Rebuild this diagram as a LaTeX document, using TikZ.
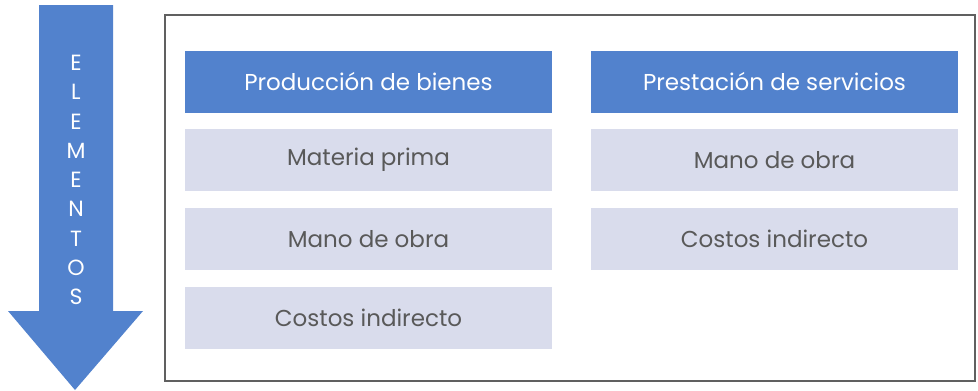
\documentclass[tikz,border=0pt]{standalone}
\usepackage{fontspec}
\setmainfont{Poppins}
\usetikzlibrary{positioning}

\definecolor{headblue}{HTML}{5282CD}
\definecolor{cellgray}{HTML}{D9DCEC}
\definecolor{textgray}{HTML}{595959}
\definecolor{framegray}{HTML}{606060}

\tikzset{
  headbox/.style={fill=headblue, text=white, minimum width=367pt, minimum height=62pt,
    inner sep=0pt, font=\fontsize{23}{26}\selectfont},
  cellbox/.style={fill=cellgray, text=textgray, minimum width=367pt, minimum height=62pt,
    inner sep=0pt, font=\fontsize{23}{26}\selectfont}
}

\begin{document}
\begin{tikzpicture}[x=1pt, y=-1pt]

  % Fix the page size
  \useasboundingbox (0,0) rectangle (978,391);

  % Big arrow on the left
  \fill[headblue] (39,5) -- (113,5) -- (113,311) -- (143,311) -- (75,390)
    -- (8,311) -- (39,311) -- cycle;
  \node[text=white, align=center, font=\fontsize{22}{29.3}\selectfont] (elementos) at (76,180)
    {E\\L\\E\\M\\E\\N\\T\\O\\S};

  % Outer frame
  \draw[framegray, line width=2pt] (165,15) rectangle (975,381);

  % Left column
  \node[headbox] (bienes) at (368.5,82) {Producción de bienes};
  \node[cellbox] (materia) at (368.5,160) {Materia prima};
  \node[cellbox] (obraB) at (368.5,239) {Mano de obra};
  \node[cellbox] (costosB) at (368.5,318) {Costos indirecto};

  % Right column
  \node[headbox] (servicios) at (774.5,82) {Prestación de servicios};
  \node[cellbox] (obraS) at (774.5,160) {Mano de obra};
  \node[cellbox] (costosS) at (774.5,239) {Costos indirecto};

\end{tikzpicture}
\end{document}
